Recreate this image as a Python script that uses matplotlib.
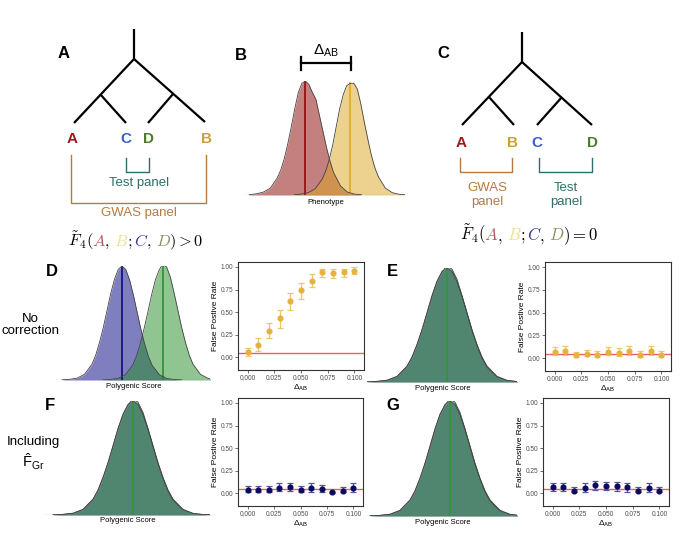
import numpy as np
import matplotlib
matplotlib.use("Agg")
import matplotlib.pyplot as plt
from matplotlib.transforms import IdentityTransform

plt.rcParams["font.family"] = ["Liberation Sans", "DejaVu Sans"]
plt.rcParams["mathtext.fontset"] = "custom"
plt.rcParams["mathtext.rm"] = "Liberation Sans"
plt.rcParams["mathtext.it"] = "Liberation Sans:italic"
plt.rcParams["mathtext.bf"] = "Liberation Sans:bold"

# --- data ---
delta_ab = [0.0, 0.01, 0.02, 0.03, 0.04, 0.05, 0.06, 0.07, 0.08, 0.09, 0.10]

# panel D: no correction, topology of A
fpr_d = [0.06, 0.14, 0.29, 0.43, 0.62, 0.74, 0.85, 0.94, 0.93, 0.94, 0.96]
lo_d = [0.02, 0.07, 0.21, 0.33, 0.52, 0.65, 0.78, 0.89, 0.88, 0.89, 0.92]
hi_d = [0.10, 0.21, 0.38, 0.52, 0.71, 0.82, 0.92, 0.98, 0.98, 0.98, 1.00]
# panel E: no correction, topology of C
fpr_e = [0.07, 0.08, 0.03, 0.05, 0.04, 0.07, 0.06, 0.08, 0.04, 0.08, 0.04]
lo_e = [0.03, 0.04, 0.01, 0.02, 0.01, 0.03, 0.02, 0.04, 0.01, 0.04, 0.01]
hi_e = [0.12, 0.13, 0.07, 0.09, 0.08, 0.12, 0.11, 0.13, 0.08, 0.13, 0.08]
# panel F: including F_Gr, topology of A
fpr_f = [0.04, 0.04, 0.04, 0.06, 0.07, 0.04, 0.06, 0.05, 0.01, 0.03, 0.06]
lo_f = [0.01, 0.01, 0.01, 0.03, 0.03, 0.01, 0.02, 0.01, 0.00, 0.01, 0.02]
hi_f = [0.08, 0.08, 0.08, 0.11, 0.12, 0.08, 0.11, 0.09, 0.02, 0.07, 0.11]
# panel G: including F_Gr, topology of C
fpr_g = [0.07, 0.07, 0.03, 0.06, 0.09, 0.08, 0.08, 0.07, 0.03, 0.06, 0.03]
lo_g = [0.03, 0.03, 0.01, 0.02, 0.04, 0.04, 0.03, 0.02, 0.01, 0.02, 0.01]
hi_g = [0.12, 0.12, 0.07, 0.11, 0.14, 0.13, 0.13, 0.12, 0.07, 0.11, 0.07]
alpha_level = 0.05

# density shapes (offset in sd units -> relative height)
offs = [-4, -3.5, -3, -2.5, -2, -1.75, -1.5, -1.25, -1, -0.75, -0.5, -0.25, 0,
        0.25, 0.5, 0.75, 1, 1.25, 1.5, 1.75, 2, 2.5, 3, 3.5, 4]
pheno_a = [0.003, 0.01, 0.025, 0.06, 0.15, 0.22, 0.32, 0.45, 0.6, 0.76, 0.9, 0.98, 1.0,
           0.97, 0.9, 0.84, 0.7, 0.56, 0.42, 0.3, 0.2, 0.08, 0.025, 0.008, 0.002]
pheno_b = [0.002, 0.008, 0.02, 0.055, 0.14, 0.21, 0.31, 0.44, 0.6, 0.76, 0.88, 0.96, 0.98,
           0.98, 0.93, 0.8, 0.64, 0.49, 0.35, 0.24, 0.16, 0.06, 0.02, 0.006, 0.002]
score_c = [0.002, 0.006, 0.016, 0.05, 0.14, 0.22, 0.33, 0.46, 0.61, 0.76, 0.885, 0.97, 1.0,
           0.97, 0.88, 0.75, 0.6, 0.45, 0.32, 0.21, 0.13, 0.045, 0.013, 0.004, 0.001]
score_d = [0.001, 0.005, 0.014, 0.046, 0.135, 0.215, 0.325, 0.455, 0.6, 0.75, 0.88, 0.965, 1.02,
           0.99, 0.9, 0.76, 0.61, 0.46, 0.33, 0.22, 0.14, 0.05, 0.015, 0.004, 0.001]
mean_b_shift = 3.2      # Delta_AB in phenotype sd
mean_d_shift = 2.73     # uncorrected score shift, panel D

W, H = 680, 534
fig = plt.figure(figsize=(6.8, 5.34), dpi=100)


def px_axes(x0, y0, x1, y1):
    return fig.add_axes([x0 / W, 1 - y1 / H, (x1 - x0) / W, (y1 - y0) / H])


bg = fig.add_axes([0, 0, 1, 1])
bg.set_xlim(0, W)
bg.set_ylim(H, 0)
bg.axis("off")

red_c, blue_c, green_c, gold_c = "#9e1b1b", "#3a5fcd", "#4b7b2b", "#c9a235"
test_c, gwas_c = "#2f6e6a", "#b87a3d"


def tree(segs):
    for (x0, y0), (x1, y1) in segs:
        bg.plot([x0, x1], [y0, y1], color="black", lw=1.6, solid_capstyle="butt")


def bracket(x0, x1, ytop, ybot, color):
    bg.plot([x0, x0, x1, x1], [ytop, ybot, ybot, ytop], color=color, lw=1.0)


# panel A tree
tree([((134, 29), (134, 59)), ((134, 59), (74, 123)), ((100, 94), (126, 123)),
      ((134, 59), (205, 122)), ((173, 94), (148, 123))])
for lab, x, c in [("A", 72, red_c), ("C", 126, blue_c), ("D", 149, green_c), ("B", 207, gold_c)]:
    bg.text(x, 139, lab, color=c, fontsize=11, fontweight="bold", ha="center", va="center")
bracket(126, 149, 158, 172, test_c)
bg.text(139, 183, "Test panel", color=test_c, fontsize=9.5, ha="center", va="center")
bracket(71, 206, 155, 203, gwas_c)
bg.text(139, 213, "GWAS panel", color=gwas_c, fontsize=9.5, ha="center", va="center")

# panel C tree
tree([((522, 32), (522, 62)), ((522, 62), (462, 125)), ((489, 97), (514, 125)),
      ((522, 62), (592, 125)), ((562, 97), (537, 125))])
for lab, x, c in [("A", 461, red_c), ("B", 513, gold_c), ("C", 537, blue_c), ("D", 592, green_c)]:
    bg.text(x, 143, lab, color=c, fontsize=11, fontweight="bold", ha="center", va="center")
bracket(460, 512, 158, 172, gwas_c)
bracket(539, 592, 158, 172, test_c)
bg.text(487, 195, "GWAS\npanel", color=gwas_c, fontsize=9.5, ha="center", va="center", linespacing=1.15)
bg.text(566, 195, "Test\npanel", color=test_c, fontsize=9.5, ha="center", va="center", linespacing=1.15)

# panel letters
for lab, x, y in [("A", 64, 54), ("B", 241, 55), ("C", 443, 54), ("D", 52, 272),
                  ("E", 392, 272), ("F", 50, 406), ("G", 393, 405)]:
    bg.text(x, y, lab, fontsize=12, fontweight="bold", ha="center", va="center")

# row labels
bg.text(30, 325, "No\ncorrection", fontsize=9.5, ha="center", va="center", linespacing=1.1)
bg.text(33, 442, "Including", fontsize=9.5, ha="center", va="center")
bg.text(33, 462, r"$\hat{\mathrm{F}}_{\mathrm{Gr}}$", fontsize=10.5, ha="center", va="center")

# Delta_AB bracket
bg.plot([301, 351], [63, 63], color="black", lw=1.6)
bg.plot([301, 301], [57, 70], color="black", lw=1.6)
bg.plot([351, 351], [57, 70], color="black", lw=1.6)
bg.text(326, 51, r"$\Delta_{\mathrm{AB}}$", fontsize=11, ha="center", va="center")


def formula(xc, ybase, parts, size):
    # mathtext extents are ink based, so the advance of a prefix is measured
    # against a sentinel glyph placed after it
    r = fig.canvas.get_renderer()

    def width(s):
        t = fig.text(0, 0, "$" + s + "$", fontsize=size, math_fontfamily="cm",
                     transform=IdentityTransform())
        w = t.get_window_extent(r).width
        t.remove()
        return w

    def advance(s):
        return width(s + "I") - width("I") if s else 0.0

    strs = [s for s, _ in parts]
    x0 = xc - advance("".join(strs)) / 2
    for i, (s, c) in enumerate(parts):
        fig.text(x0 + advance("".join(strs[:i])), H - ybase, "$" + s + "$", color=c,
                 fontsize=size, math_fontfamily="cm", transform=IdentityTransform(),
                 ha="left", va="baseline")


fa, fb, fc, fd = "#b4595b", "#efe08e", "#3b3b8f", "#8a9164"


def f4_parts(rel):
    return [(r"\tilde{F}_4(", "black"), ("A", fa), (r",\,", "black"), ("B", fb),
            (";", "black"), ("C", fc), (r",\,", "black"), ("D", fd), (")" + rel + "0", "black")]


formula(135, 246, f4_parts(">"), 11.8)
formula(528, 240, f4_parts("="), 12.0)


def density(rect, xlim, curves, xlabel, label_y):
    ax = px_axes(*rect)
    xs0 = np.array(offs)
    for mean, h, fill, line in curves:
        ax.fill_between(xs0 + mean, h, color=fill, alpha=0.5, lw=0)
        if line:
            ax.plot([mean, mean], [0, h[offs.index(0)]], color=line, lw=1.1)
    for mean, h, fill, _ in curves:
        ax.plot(xs0 + mean, h, color="#444444", lw=0.6)
    ax.axhline(0, color="#666666", lw=0.8)
    ax.set_xlim(*xlim)
    ax.set_ylim(0, 1.0)
    ax.axis("off")
    bg.text((rect[0] + rect[2]) / 2 + 1, label_y, xlabel, fontsize=5.5, ha="center", va="center")


density((245, 81, 405, 195), (-4.3, 7.1),
        [(0, pheno_a, "#8b0000", "#8b0000"), (mean_b_shift, pheno_b, "#daa520", "#daa520")],
        "Phenotype", 203)
density((55, 266, 210, 380), (-4.47, 5.87),
        [(0, score_c, "#000080", "#000080"), (mean_d_shift, score_d, "#228b22", "#228b22")],
        "Polygenic Score", 386)
density((367, 268, 517, 382), (-4.0, 3.5),
        [(0, score_c, "#000080", None), (0, score_d, "#228b22", "#2f962f")],
        "Polygenic Score", 389)
density((43, 401, 210, 515), (-4.5, 3.85),
        [(0, score_c, "#000080", None), (0, score_d, "#228b22", "#2f962f")],
        "Polygenic Score", 521)
density((367, 401, 517, 516), (-4.15, 3.35),
        [(0, score_c, "#000080", None), (0, score_d, "#228b22", "#2f962f")],
        "Polygenic Score", 522)


def fpr(rect, y, lo, hi, pt, bar):
    ax = px_axes(*rect)
    y, lo, hi = np.array(y), np.array(lo), np.array(hi)
    ax.axhline(alpha_level, color="#e04848", lw=1.0, alpha=0.85, zorder=1)
    ax.errorbar(delta_ab, y, yerr=[y - lo, hi - y], fmt="o", color=pt, ecolor=bar,
                elinewidth=0.9, capsize=2.3, capthick=0.9, markersize=3.4, zorder=3)
    ax.set_xlim(-0.009, 0.109)
    ax.set_ylim(-0.14, 1.055)
    ax.set_xticks([0, 0.025, 0.05, 0.075, 0.1])
    ax.set_xticklabels(["0.000", "0.025", "0.050", "0.075", "0.100"])
    ax.set_yticks([0, 0.25, 0.5, 0.75, 1.0])
    ax.set_yticklabels(["0.00", "0.25", "0.50", "0.75", "1.00"])
    ax.tick_params(labelsize=4.7, labelcolor="#4d4d4d", color="#333333",
                   length=2, width=0.5, pad=1.5)
    for s in ax.spines.values():
        s.set_linewidth(0.8)
        s.set_color("#333333")
    ax.set_ylabel("False Postive Rate", fontsize=6, labelpad=1)
    ax.set_xlabel(r"$\Delta_{\mathrm{AB}}$", fontsize=6, labelpad=1)


fpr((238, 262, 364, 370), fpr_d, lo_d, hi_d, "#e6b13f", "#efc66a")
fpr((545, 262, 671, 371), fpr_e, lo_e, hi_e, "#e6b13f", "#efc66a")
fpr((238, 398, 363, 506), fpr_f, lo_f, hi_f, "#0b0b5e", "#5656a0")
fpr((543, 398, 669, 506), fpr_g, lo_g, hi_g, "#0b0b5e", "#5656a0")

fig.savefig("out.png", dpi=100)
